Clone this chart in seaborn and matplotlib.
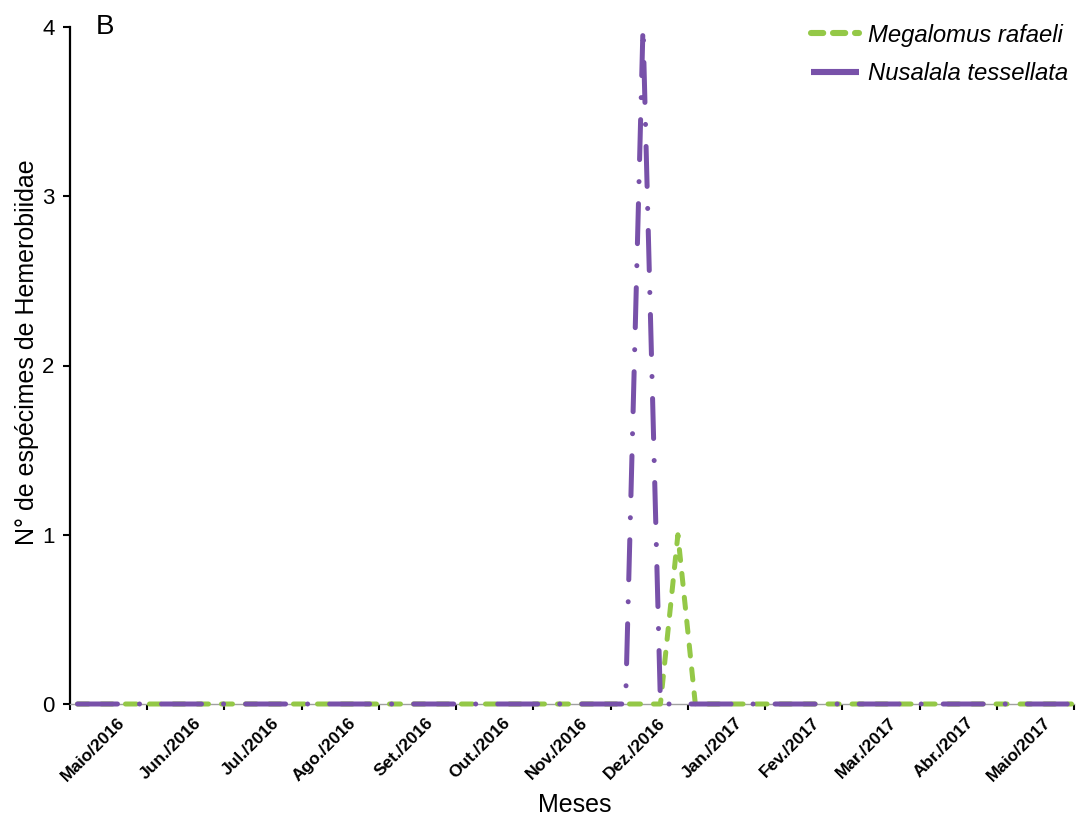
import numpy as np
import pandas as pd
import matplotlib
matplotlib.use("Agg")
import matplotlib.pyplot as plt
from matplotlib.lines import Line2D
from matplotlib.transforms import ScaledTranslation
import seaborn as sns

# ---- data ----
meses = ["Maio/2016", "Jun./2016", "Jul./2016", "Ago./2016", "Set./2016", "Out./2016",
         "Nov./2016", "Dez./2016", "Jan./2017", "Fev./2017", "Mar./2017", "Abr./2017",
         "Maio/2017"]
# weekly samples
datas = pd.date_range("2016-05-04", periods=57, freq="7D")
megalomus_rafaeli = [0, 0, 0, 0, 0, 0, 0, 0, 0, 0,
                     0, 0, 0, 0, 0, 0, 0, 0, 0, 0,
                     0, 0, 0, 0, 0, 0, 0, 0, 0, 0,
                     0, 0, 0, 0, 1, 0, 0, 0, 0, 0,
                     0, 0, 0, 0, 0, 0, 0, 0, 0, 0,
                     0, 0, 0, 0, 0, 0, 0]
nusalala_tessellata = [0, 0, 0, 0, 0, 0, 0, 0, 0, 0,
                       0, 0, 0, 0, 0, 0, 0, 0, 0, 0,
                       0, 0, 0, 0, 0, 0, 0, 0, 0, 0,
                       0, 0, 4, 0, 0, 0, 0, 0, 0, 0,
                       0, 0, 0, 0, 0, 0, 0, 0, 0, 0,
                       0, 0, 0, 0, 0, 0, 0]
especies = ["Megalomus rafaeli", "Nusalala tessellata"]

# position of each sample on the monthly category axis
pos = np.array([(d.year - 2016) * 12 + d.month - 5 + (d.day - 1) / d.days_in_month for d in datas])

df = pd.DataFrame({
    "pos": np.concatenate([pos, pos]),
    "n": megalomus_rafaeli + nusalala_tessellata,
    "especie": [especies[0]] * len(pos) + [especies[1]] * len(pos),
})

# ---- style ----
sns.set_style("ticks")
plt.rcParams["font.family"] = ["Liberation Sans", "DejaVu Sans"]
plt.rcParams["lines.dash_capstyle"] = "round"
plt.rcParams["lines.solid_capstyle"] = "round"
plt.rcParams["text.color"] = "black"
plt.rcParams["axes.labelcolor"] = "black"
plt.rcParams["xtick.color"] = "black"
plt.rcParams["ytick.color"] = "black"

verde = "#94c847"
roxo = "#7851a9"

fig = plt.figure(figsize=(10.88, 8.27), dpi=100)
ax = fig.add_axes([70 / 1088, 1 - 704 / 827, 1004 / 1088, 677 / 827])

sns.lineplot(data=df, x="pos", y="n", hue="especie", style="especie",
             hue_order=especies, style_order=especies,
             palette={especies[0]: verde, especies[1]: roxo},
             dashes={especies[0]: (2.2, 2.6), especies[1]: (8.0, 4.4, 0.01, 4.4)},
             legend=False, sort=False, ax=ax)
lines = ax.get_lines()
for ln in lines:
    ln.set_linewidth(3.6)
    ln.set_clip_on(False)
    ln.set_zorder(3)
lines[0].set_dashes((2.2, 2.6))
lines[1].set_dashes((8.0, 4.4, 0.01, 4.4))
lines[1].set_zorder(3.1)

ax.set_xlim(0, 13)
ax.set_ylim(0, 4)
ax.set_xticks(np.arange(0, 14))
ax.set_xticklabels([])
ax.set_xticks(np.arange(13) + 0.5, minor=True)
ax.set_xticklabels(meses, minor=True, rotation=45, ha="right", va="top",
                   rotation_mode="anchor", fontsize=12.5, fontweight="bold")
ax.tick_params(axis="x", which="minor", length=0, pad=8)
ax.tick_params(axis="x", which="major", length=4.5, width=1.5, color="black", direction="out")
off = ScaledTranslation(8 / 100, 0, fig.dpi_scale_trans)
for lbl in ax.get_xticklabels(minor=True):
    lbl.set_transform(lbl.get_transform() + off)

ax.set_yticks([0, 1, 2, 3, 4])
ax.tick_params(axis="y", length=5, width=1.5, labelsize=16, pad=6, direction="out")

for s in ["top", "right"]:
    ax.spines[s].set_visible(False)
ax.spines["left"].set_linewidth(1.6)
ax.spines["left"].set_color("black")
ax.spines["bottom"].set_linewidth(1.0)
ax.spines["bottom"].set_color("#a0a0a0")

ax.set_xlabel("Meses", fontsize=18)
ax.set_ylabel("N° de espécimes de Hemerobiidae", fontsize=18)
ax.xaxis.set_label_coords(0.503, -0.132)
ax.yaxis.set_label_coords(-0.031, 0.52)

handles = [
    Line2D([], [], color=verde, linewidth=4.4, dashes=(2.0, 1.6), dash_capstyle="round"),
    Line2D([], [], color=roxo, linewidth=4.4, solid_capstyle="butt"),
]
fig.legend(handles, especies, loc="upper right", bbox_to_anchor=(1078 / 1088, 1 - 14 / 827),
           frameon=False, prop={"style": "italic", "size": 17.2}, handlelength=2.0,
           handletextpad=0.4, labelspacing=0.65, borderaxespad=0)

fig.text(96 / 1088, 1 - 27 / 827, "B", fontsize=20, va="center", ha="left")

fig.savefig("out.png", dpi=100)
